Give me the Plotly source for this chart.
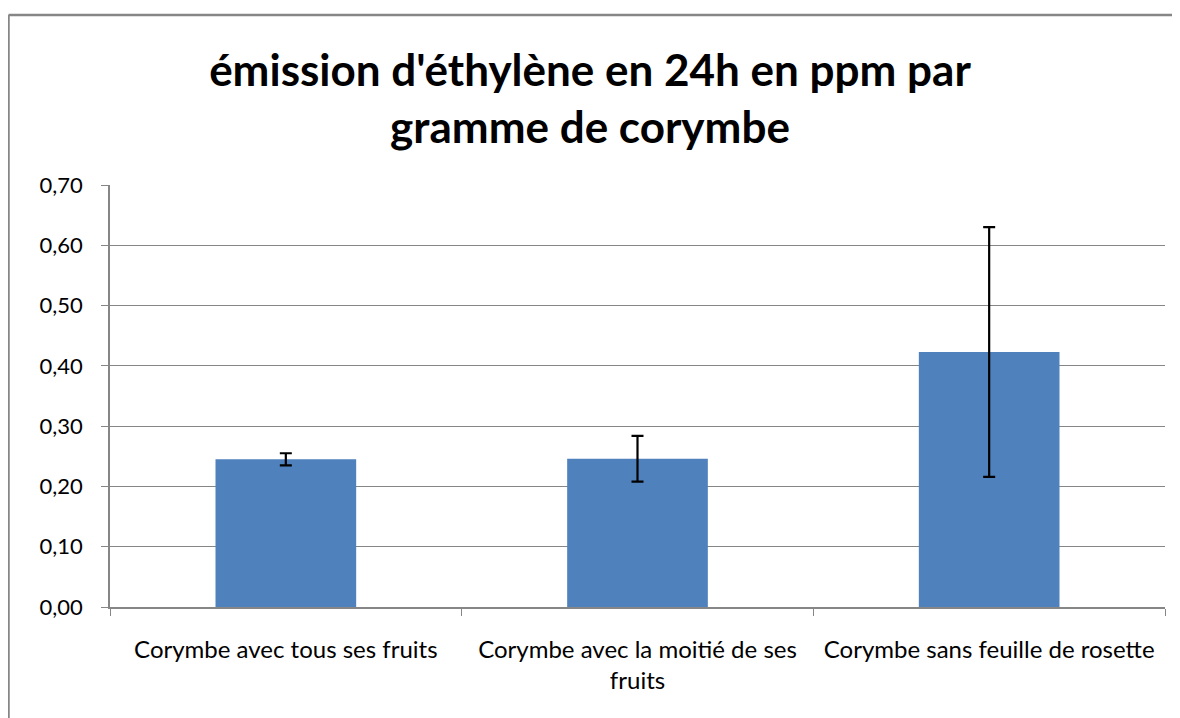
import plotly.graph_objects as go

categories = ["Corymbe avec tous ses fruits",
              "Corymbe avec la moitié de ses<br>fruits",
              "Corymbe sans feuille de rosette"]
values = [0.245, 0.246, 0.423]
errors = [0.010, 0.038, 0.207]
y_ticks = [0.0, 0.1, 0.2, 0.3, 0.4, 0.5, 0.6, 0.7]

# page body adds an 8px offset; size the figure so it ends at the window edge
OFF = 8
W, H = 1180 - OFF, 718 - OFF
L, T = 110 - OFF, 185 - OFF
R = W - (1165 - OFF)
B = H - (607 - OFF)
pw, ph = W - L - R, H - T - B

bx = (8.5 - OFF - L) / pw          # left border, paper coords
by = 1 + (T - (15 - OFF)) / ph     # top border, paper coords
border = dict(color="#868686", width=2.5)

fig = go.Figure(go.Bar(
    x=categories, y=values,
    marker=dict(color="#4F81BD", line=dict(width=0)),
    error_y=dict(type="data", array=errors, visible=True,
                 color="#000000", thickness=2.2, width=6),
))

fig.update_layout(
    width=W, height=H,
    margin=dict(l=L, r=R, t=T, b=B),
    paper_bgcolor="white", plot_bgcolor="white",
    separators=", ",
    bargap=0.6,
    showlegend=False,
    font=dict(family="Lato, Open Sans, sans-serif", color="#000000", size=22),
    title=dict(text="émission d'éthylène en 24h en ppm par<br>gramme de corymbe",
               x=(590 - OFF) / W, xanchor="center",
               y=1 - (86 - OFF) / H, yanchor="middle",
               font=dict(family="Lato, Open Sans, sans-serif", size=44, color="#000000", weight="bold")),
    xaxis=dict(showline=True, linecolor="#868686", linewidth=1.5,
               ticks="outside", tickson="boundaries", ticklen=7, tickcolor="#868686",
               tickfont=dict(size=24), showgrid=False, ticklabelstandoff=20),
    yaxis=dict(range=[0, 0.7], tickvals=y_ticks, tickformat=".2f",
               showline=True, linecolor="#868686", linewidth=1.5,
               ticks="outside", ticklen=7, tickcolor="#868686",
               showgrid=True, gridcolor="#868686", gridwidth=1.3,
               zeroline=False, tickfont=dict(size=22), ticklabelstandoff=14),
    shapes=[
        dict(type="line", xref="paper", yref="paper", x0=bx, x1=bx, y0=-1.0, y1=by, line=border, layer="below"),
        dict(type="line", xref="paper", yref="paper", x0=bx, x1=2.0, y0=by, y1=by, line=border, layer="below"),
    ],
)

fig.write_html("out.html")
